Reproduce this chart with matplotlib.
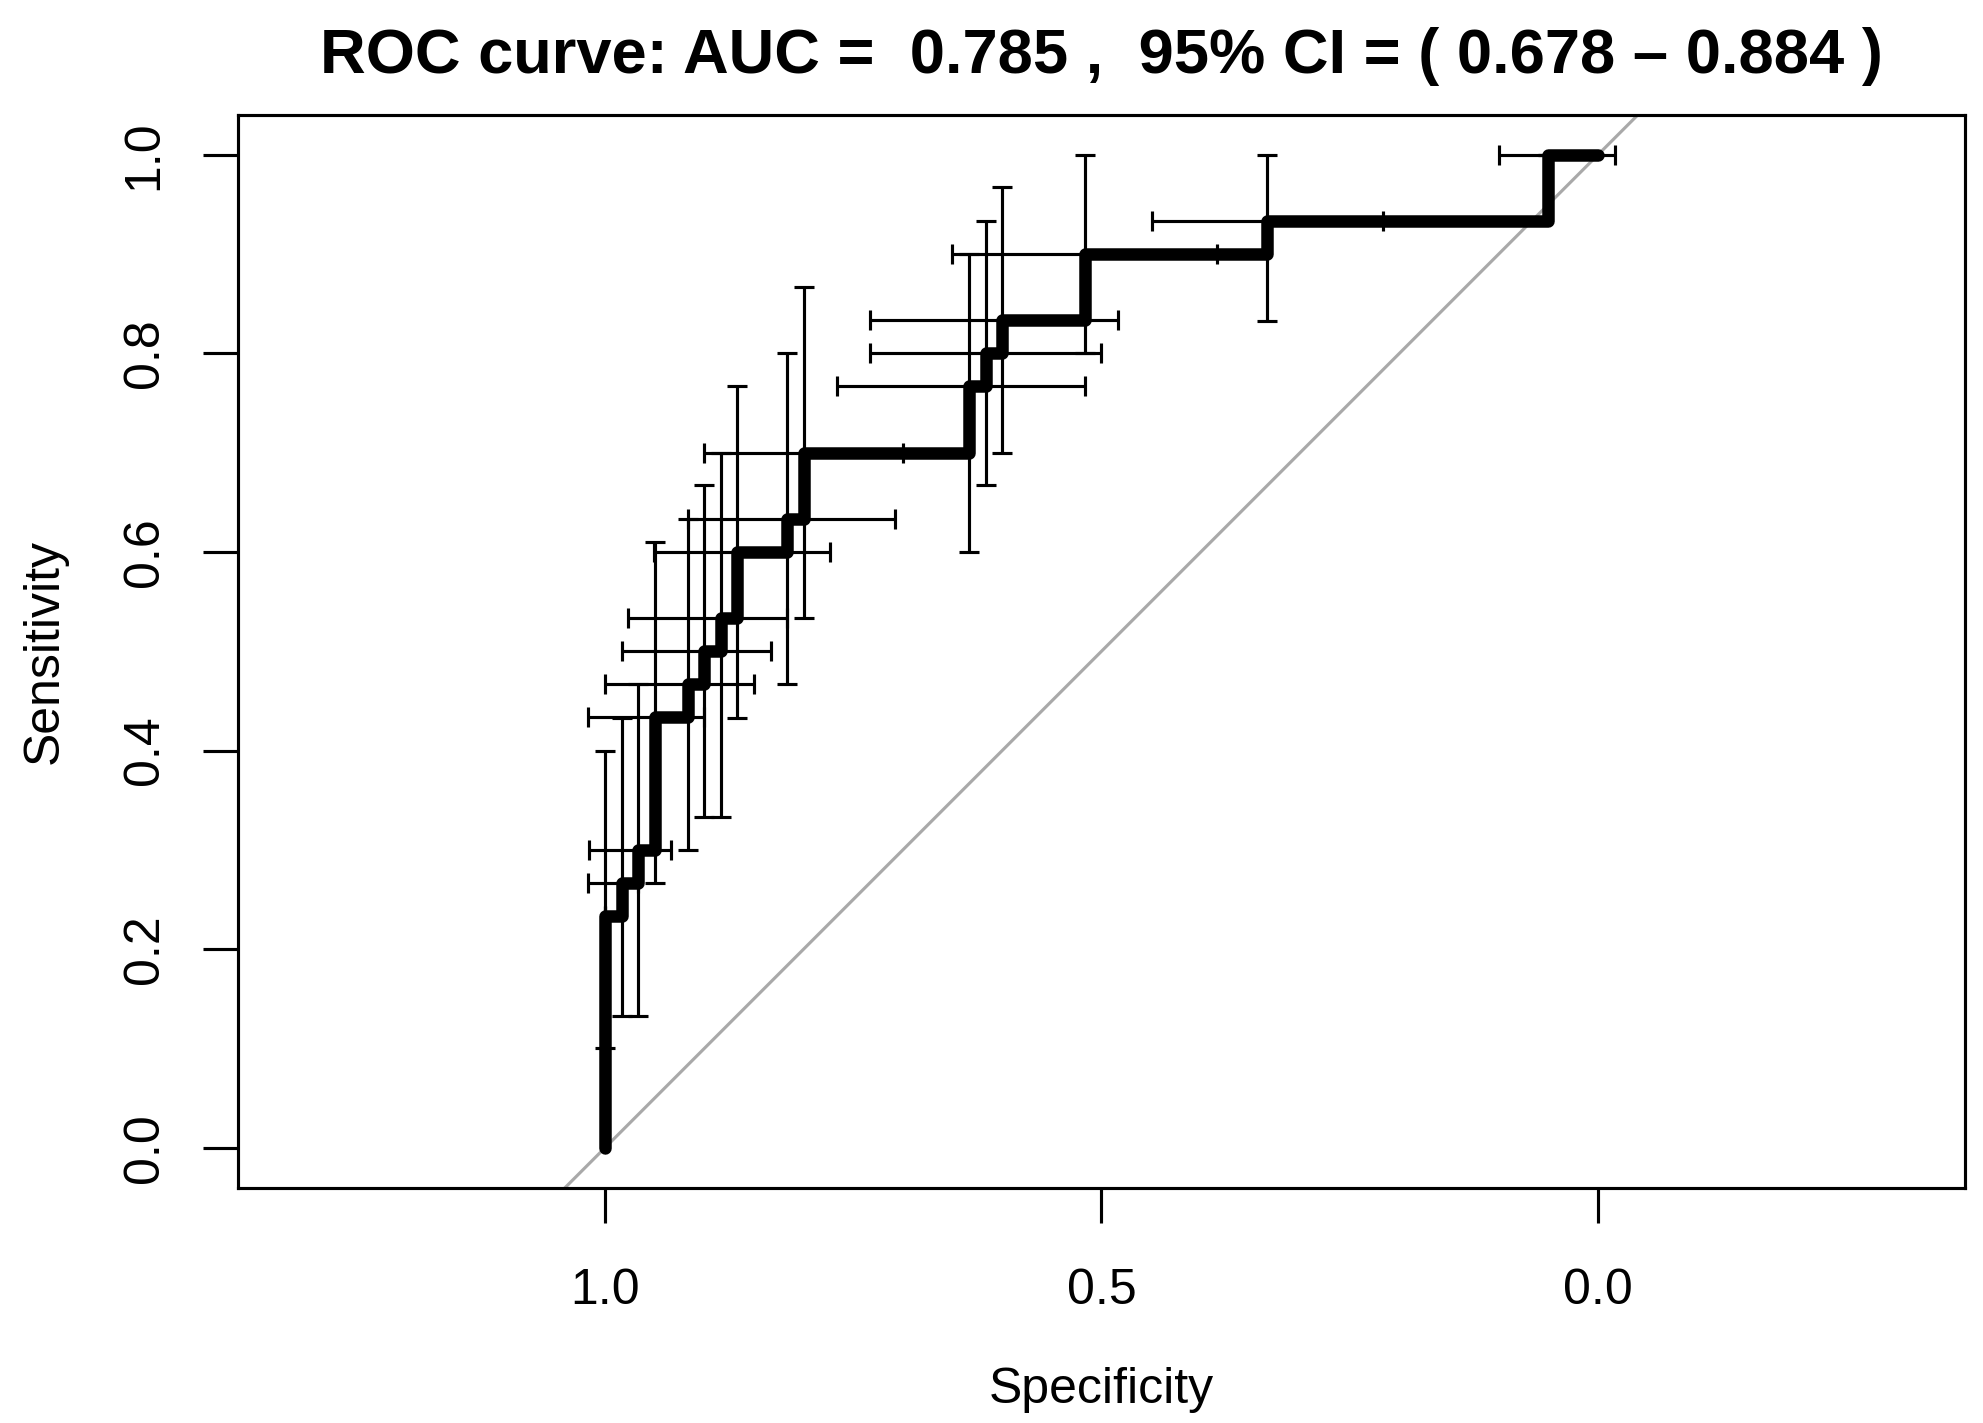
import matplotlib
matplotlib.use("Agg")
import matplotlib.pyplot as plt
import numpy as np

plt.rcParams['font.family'] = ['Liberation Sans', 'DejaVu Sans']

# ROC curve vertices (specificity, sensitivity)
roc_spec = [1.0, 1.0, 0.9833, 0.9833, 0.9667, 0.9667, 0.95, 0.95, 0.9167, 0.9167,
            0.9, 0.9, 0.8833, 0.8833, 0.8667, 0.8667, 0.8167, 0.8167, 0.8, 0.8,
            0.6333, 0.6333, 0.6167, 0.6167, 0.6, 0.6, 0.5167, 0.5167, 0.3333, 0.3333,
            0.05, 0.05, 0.0]
roc_sens = [0.0, 0.2333, 0.2333, 0.2667, 0.2667, 0.3, 0.3, 0.4333, 0.4333, 0.4667,
            0.4667, 0.5, 0.5, 0.5333, 0.5333, 0.6, 0.6, 0.6333, 0.6333, 0.7,
            0.7, 0.7667, 0.7667, 0.8, 0.8, 0.8333, 0.8333, 0.9, 0.9, 0.9333,
            0.9333, 1.0, 1.0]

# Confidence intervals at thresholds (local maxima)
ci_spec = [1.0, 0.9833, 0.9667, 0.95, 0.9167, 0.9, 0.8833, 0.8667, 0.8167, 0.8,
           0.6333, 0.6167, 0.6, 0.5167, 0.3333, 0.05]
ci_sens = [0.2333, 0.2667, 0.3, 0.4333, 0.4667, 0.5, 0.5333, 0.6, 0.6333, 0.7,
           0.7667, 0.8, 0.8333, 0.9, 0.9333, 1.0]
se_low = [0.1, 0.133, 0.133, 0.267, 0.3, 0.333, 0.333, 0.433, 0.467, 0.533,
          0.6, 0.667, 0.7, 0.8, 0.833, 1.0]
se_high = [0.4, 0.433, 0.467, 0.61, 0.633, 0.667, 0.7, 0.767, 0.8, 0.867,
           0.9, 0.933, 0.967, 1.0, 1.0, 1.0]
sp_low = [1.0, 0.95, 0.917, 0.883, 0.833, 0.817, 0.79, 0.783, 0.717, 0.7,
          0.5, 0.5, 0.467, 0.383, 0.217, 0.0]
sp_high = [1.0, 1.0, 1.0, 1.0, 0.983, 0.967, 0.95, 0.96, 0.925, 0.9,
           0.75, 0.733, 0.717, 0.65, 0.45, 0.117]

auc_value = "0.785"
ci_low_txt = "0.678"
ci_high_txt = "0.884"
title_text = "ROC curve: AUC =  " + auc_value + " ,  95% CI = ( " + ci_low_txt + " \u2013 " + ci_high_txt + " )"

x_ticks = [1.0, 0.5, 0.0]
x_ticklabels = ["1.0", "0.5", "0.0"]
y_ticks = [0.0, 0.2, 0.4, 0.6, 0.8, 1.0]
y_ticklabels = ["0.0", "0.2", "0.4", "0.6", "0.8", "1.0"]

W, H, DPI = 1983, 1423, 300
fig = plt.figure(figsize=(W / DPI, H / DPI), dpi=DPI)
ax_left, ax_right, ax_top, ax_bottom = 238, 1965, 115, 1187.5
ax = fig.add_axes([ax_left / W, 1 - ax_bottom / H, (ax_right - ax_left) / W, (ax_bottom - ax_top) / H])

# limits (asp = 1, like R)
ylim = (-0.04, 1.04)
px_per_unit = (ax_bottom - ax_top) / (ylim[1] - ylim[0])
half = (ax_right - ax_left) / px_per_unit / 2
ax.set_xlim(0.5 + half, 0.5 - half)
ax.set_ylim(*ylim)

# identity line
ax.axline((1.0, 0.0), (0.0, 1.0), color='#A9A9A9', lw=0.75, zorder=1)

# ROC curve
ax.plot(roc_spec, roc_sens, color='black', lw=3.0, solid_capstyle='round',
        solid_joinstyle='round', zorder=3)

# CI crosses
cs = np.array(ci_spec); cse = np.array(ci_sens)
xerr = [np.array(sp_high) - cs, cs - np.array(sp_low)]
yerr = [cse - np.array(se_low), np.array(se_high) - cse]
ax.errorbar(cs, cse, xerr=np.abs(xerr), yerr=np.abs(yerr), fmt='none', ecolor='black',
            elinewidth=0.75, capsize=2.4, capthick=0.75, zorder=4)

# axes styling
for s in ax.spines.values():
    s.set_linewidth(0.75)
    s.set_color('black')
ax.set_xticks(x_ticks, x_ticklabels)
ax.set_yticks(y_ticks, y_ticklabels)
ax.tick_params(axis='both', direction='out', length=8.4, width=0.75, labelsize=12)
ax.tick_params(axis='x', pad=10.9)
ax.tick_params(axis='y', pad=8.5)
for lbl in ax.get_yticklabels():
    lbl.set_rotation(90)
    lbl.set_va('center')

ax.set_xlabel("Specificity", fontsize=12)
ax.xaxis.set_label_coords(0.5, -(1367 - ax_bottom) / (ax_bottom - ax_top))
ax.set_ylabel("Sensitivity", fontsize=12)
ax.yaxis.set_label_coords(-(ax_left - 68) / (ax_right - ax_left), 0.5)

fig.text(((ax_left + ax_right) / 2) / W, 1 - 73 / H, title_text, ha='center', va='baseline',
         fontsize=15.2, fontweight='bold')

fig.savefig("out.png", dpi=DPI, facecolor='white')
